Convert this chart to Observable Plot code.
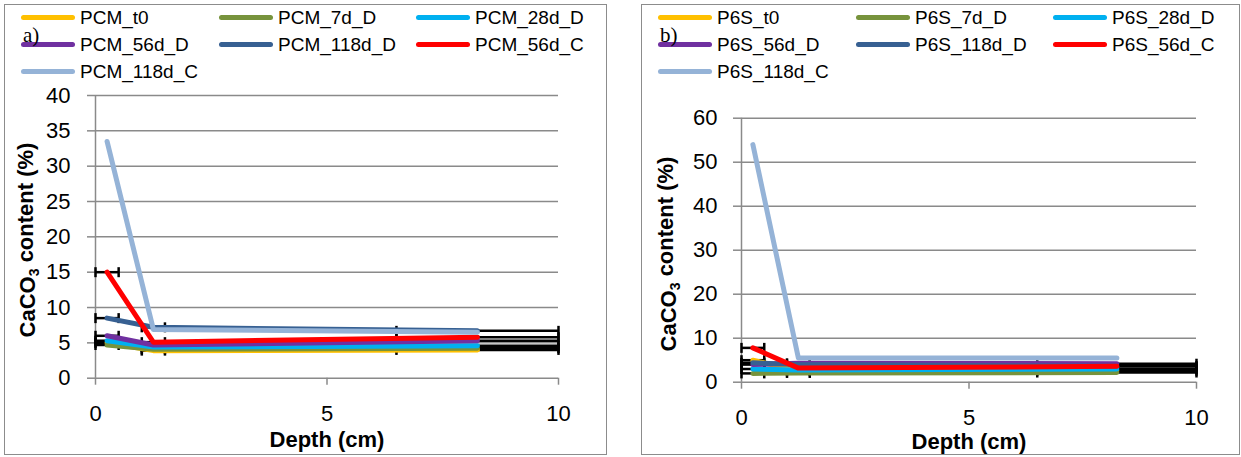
<!DOCTYPE html>
<html>
<head>
<meta charset="utf-8">
<script src="https://cdn.jsdelivr.net/npm/d3@7"></script>
<script src="https://cdn.jsdelivr.net/npm/@observablehq/plot@0.6"></script>
<style>
  html, body { margin: 0; padding: 0; background: white; }
  body { position: relative; width: 1241px; height: 457px; overflow: hidden; font-family: "Liberation Sans", Arial, sans-serif; }
  .frame { position: absolute; box-sizing: border-box; border: 1.5px solid #8c8c8c; pointer-events: none; }
  .sw { position: absolute; height: 5px; border-radius: 2.5px; }
  .lt { position: absolute; font-size: 19px; line-height: 19px; white-space: nowrap; color: #000; }
  .pl { position: absolute; font-family: "Liberation Serif", "Times New Roman", serif; font-size: 21px; line-height: 21px; color: #000; }
</style>
</head>
<body>
<script>
// ---------- data ----------
const depth = [0.25, 1.25, 8.25];
const depthLow = [0, 1, 6.5];
const depthHigh = [0.5, 1.5, 10];

const seriesColors = ["#FFC000", "#77933C", "#00B0F0", "#7030A0", "#376092", "#FF0000", "#95B3D7"];
const hasErrorBars = [true, true, true, true, true, true, false];

// Panel a) PCM
const pcmNames = ["PCM_t0", "PCM_7d_D", "PCM_28d_D", "PCM_56d_D", "PCM_118d_D", "PCM_56d_C", "PCM_118d_C"];
const pcm_t0     = [5.0, 3.9, 4.0];
const pcm_7d_D   = [4.7, 4.1, 4.25];
const pcm_28d_D  = [5.3, 4.4, 4.6];
const pcm_56d_D  = [6.0, 4.7, 5.3];
const pcm_118d_D = [8.5, 7.2, 6.7];
const pcm_56d_C  = [15.0, 5.1, 5.8];
const pcm_118d_C = [33.5, 6.9, 6.5];
const pcmYTicks = [0, 5, 10, 15, 20, 25, 30, 35, 40];

// Panel b) P6S
const p6sNames = ["P6S_t0", "P6S_7d_D", "P6S_28d_D", "P6S_56d_D", "P6S_118d_D", "P6S_56d_C", "P6S_118d_C"];
const p6s_t0     = [5.0, 2.5, 2.6];
const p6s_7d_D   = [2.0, 2.1, 2.2];
const p6s_28d_D  = [3.0, 2.8, 3.0];
const p6s_56d_D  = [4.0, 4.3, 4.2];
const p6s_118d_D = [4.4, 4.0, 3.6];
const p6s_56d_C  = [7.8, 3.2, 3.6];
const p6s_118d_C = [54.0, 5.5, 5.5];
const p6sYTicks = [0, 10, 20, 30, 40, 50, 60];

const xTicks = [0, 5, 10];
const xTitle = "Depth (cm)";
const yTitleMain = "CaCO";
const yTitleSub = "3";
const yTitleRest = " content (%)";

// ---------- drawing ----------
const GRID = "#8a8a8a";
const capSymbol = {
  draw(ctx, size) {
    const h = Math.sqrt(size / Math.PI);
    ctx.moveTo(0, -h);
    ctx.lineTo(0, h);
  }
};

function drawPanel(cfg) {
  const {names, values, yTicks, left, top, width, height, margins, yPad, titleX, titleY, xTitleDy, letter} = cfg;
  const yMax = yTicks[yTicks.length - 1];
  const rows = names.flatMap((s, i) => depth.map((d, j) => ({series: s, depth: d, value: values[i][j]})));
  const err = names.flatMap((s, i) => hasErrorBars[i]
    ? depth.map((d, j) => ({series: s, lo: depthLow[j], hi: depthHigh[j], value: values[i][j]})) : []);
  const caps = err.flatMap(e => [{x: e.lo, value: e.value}, {x: e.hi, value: e.value}]);

  const svg = Plot.plot({
    width, height,
    marginLeft: margins[0], marginRight: margins[1], marginTop: margins[2], marginBottom: margins[3],
    style: {background: "transparent", fontFamily: "Liberation Sans, Arial, sans-serif", color: "black", overflow: "visible"},
    x: {domain: [0, 10]},
    y: {domain: [0, yMax]},
    color: {domain: names, range: seriesColors},
    marks: [
      Plot.gridY({ticks: yTicks, stroke: GRID, strokeOpacity: 1, strokeWidth: 1.5}),
      Plot.ruleX([0], {y1: 0, y2: yMax, stroke: GRID, strokeWidth: 1.5}),
      Plot.axisY({ticks: yTicks, tickSize: 8, tickPadding: yPad, fontSize: 22, stroke: GRID, strokeWidth: 1.5, fill: "black", label: null}),
      Plot.axisX({ticks: xTicks, tickSize: 7, tickPadding: 20, fontSize: 22, stroke: GRID, strokeWidth: 1.5, fill: "black", label: null}),
      Plot.link(err, {x1: "lo", x2: "hi", y1: "value", y2: "value", stroke: "black", strokeWidth: 2.5}),
      Plot.dot(caps, {x: "x", y: "value", symbol: capSymbol, r: 5, stroke: "black", fill: "none", strokeWidth: 2.5}),
      Plot.line(rows, {x: "depth", y: "value", z: "series", stroke: "series", strokeWidth: 5, strokeLinecap: "round", strokeLinejoin: "round"}),
      Plot.text([xTitle], {frameAnchor: "bottom", dy: xTitleDy, lineAnchor: "middle", text: d => d, fontWeight: "bold", fontSize: 22, fill: "black"})
    ]
  });
  svg.style.position = "absolute";
  svg.style.left = left + "px";
  svg.style.top = top + "px";

  // rotated y-axis title with a real subscript
  const t = d3.select(svg).append("text")
    .attr("transform", `translate(${titleX},${titleY}) rotate(-90)`)
    .attr("text-anchor", "middle")
    .attr("dy", "0.35em")
    .attr("font-family", "Liberation Sans, Arial, sans-serif")
    .attr("font-weight", "bold")
    .attr("font-size", 22)
    .attr("fill", "black");
  t.append("tspan").text(yTitleMain);
  t.append("tspan").attr("font-size", 14).attr("dy", "0.3em").text(yTitleSub);
  t.append("tspan").attr("dy", "-0.3em").text(yTitleRest);

  document.body.appendChild(svg);

  const fr = document.createElement("div");
  fr.className = "frame";
  Object.assign(fr.style, {left: left + "px", top: top + "px", width: width + "px", height: height + "px"});
  document.body.appendChild(fr);

  // legend (3 columns)
  const colSw = [17, 215, 412];
  const swLen = 54;
  const rowY = [17, 44, 71];
  names.forEach((n, i) => {
    const c = i % 3, r = Math.floor(i / 3);
    const sw = document.createElement("div");
    sw.className = "sw";
    Object.assign(sw.style, {left: (left + colSw[c]) + "px", top: (rowY[r] - 2.5) + "px", width: swLen + "px", background: seriesColors[i]});
    document.body.appendChild(sw);
    const tx = document.createElement("div");
    tx.className = "lt";
    tx.textContent = n;
    Object.assign(tx.style, {left: (left + colSw[c] + swLen + 5) + "px", top: (rowY[r] - 9.3) + "px"});
    document.body.appendChild(tx);
  });
  const pl = document.createElement("div");
  pl.className = "pl";
  pl.textContent = letter;
  Object.assign(pl.style, {left: (left + 19) + "px", top: "25px"});
  document.body.appendChild(pl);
}

drawPanel({
  names: pcmNames,
  values: [pcm_t0, pcm_7d_D, pcm_28d_D, pcm_56d_D, pcm_118d_D, pcm_56d_C, pcm_118d_C],
  yTicks: pcmYTicks,
  left: 4, top: 4, width: 603, height: 451,
  margins: [91, 49, 91, 77.3],
  yPad: 17, titleX: 23.5, titleY: 236, xTitleDy: 62, letter: "a)"
});

drawPanel({
  names: p6sNames,
  values: [p6s_t0, p6s_7d_D, p6s_28d_D, p6s_56d_D, p6s_118d_D, p6s_56d_C, p6s_118d_C],
  yTicks: p6sYTicks,
  left: 641, top: 4, width: 599, height: 451,
  margins: [100, 44, 113.7, 73.3],
  yPad: 16, titleX: 27, titleY: 250, xTitleDy: 60, letter: "b)"
});
</script>
</body>
</html>
